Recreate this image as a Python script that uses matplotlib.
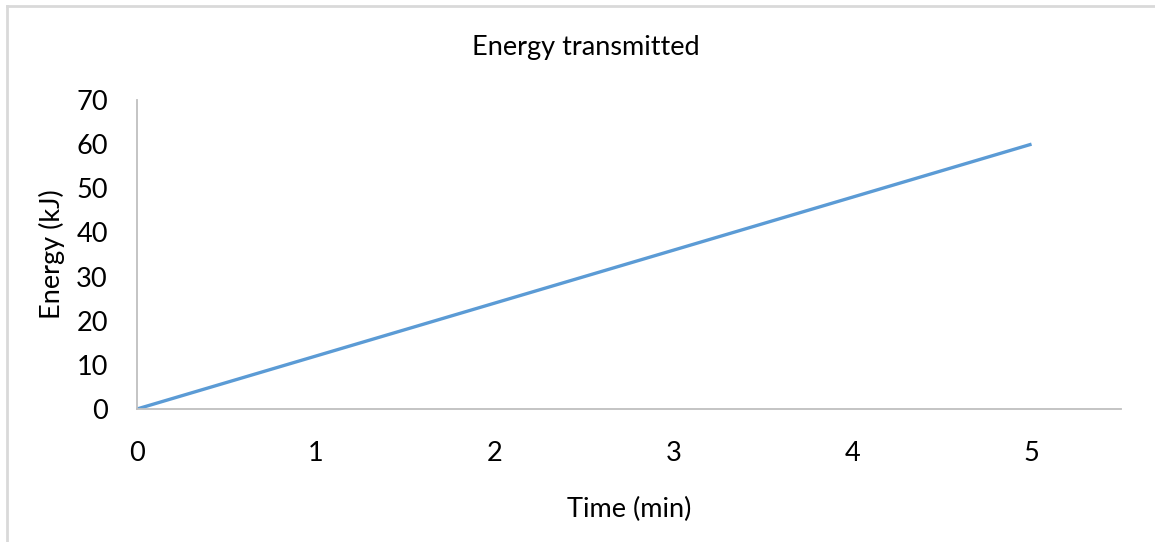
import matplotlib.pyplot as plt
from matplotlib.lines import Line2D

plt.rcParams['font.family'] = ['Lato', 'DejaVu Sans']

time_min = [0, 1, 2, 3, 4, 5]
energy_kj = [0, 12, 24, 36, 48, 60]
x_ticks = [0, 1, 2, 3, 4, 5]
y_ticks = [0, 10, 20, 30, 40, 50, 60, 70]

fig = plt.figure(figsize=(11.55, 5.42), dpi=100)
ax = fig.add_axes([137 / 1155, 1 - 409 / 542, (1121 - 137) / 1155, (409 - 100) / 542])

ax.plot(time_min, energy_kj, color='#5B9BD5', lw=2.4, solid_capstyle='butt')

ax.set_xlim(0, 5.5)
ax.set_ylim(0, 70)
ax.set_xticks(x_ticks)
ax.set_yticks(y_ticks)
ax.tick_params(length=0, labelsize=19.5, colors='black')
ax.tick_params(axis='x', pad=23)
ax.tick_params(axis='y', pad=21)

for side in ['top', 'right']:
    ax.spines[side].set_visible(False)
for side in ['left', 'bottom']:
    ax.spines[side].set_color('#BFBFBF')
    ax.spines[side].set_linewidth(1.3)

ax.set_xlabel('Time (min)', fontsize=19.5, labelpad=22)
ax.set_ylabel('Energy (kJ)', fontsize=19.5, labelpad=8)
fig.text(586 / 1155, 1 - 47 / 542, 'Energy transmitted', fontsize=19.5,
         ha='center', va='center')

# chart frame (top and left edges)
fig.add_artist(Line2D([7 / 1155, 1], [1 - 6 / 542, 1 - 6 / 542],
                      transform=fig.transFigure, color='#D9D9D9', lw=2))
fig.add_artist(Line2D([7 / 1155, 7 / 1155], [0, 1 - 6 / 542],
                      transform=fig.transFigure, color='#D9D9D9', lw=2))

fig.savefig('out.png', dpi=100)
